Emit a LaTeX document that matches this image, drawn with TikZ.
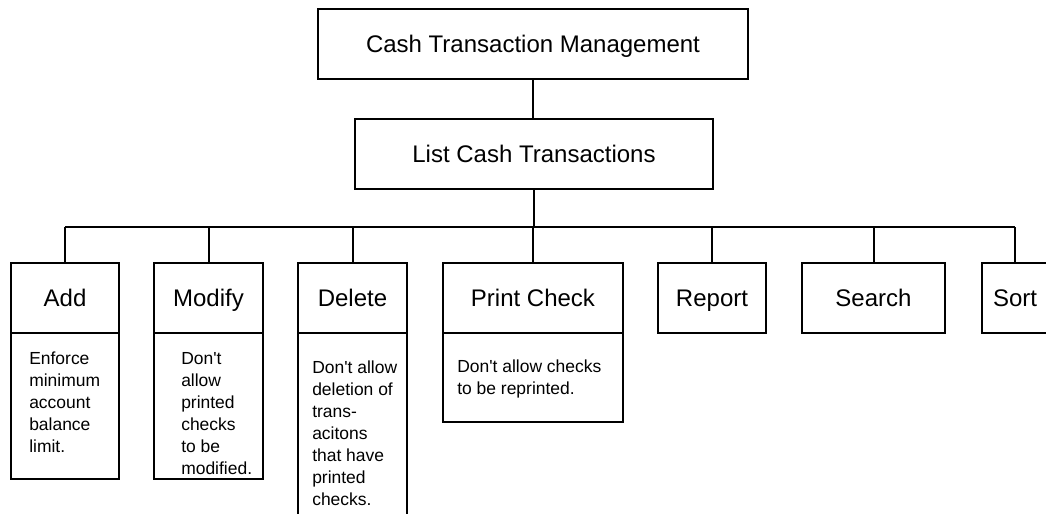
\documentclass[tikz,border=0pt]{standalone}
\usepackage{fontspec}
\setmainfont{Liberation Sans}
\newcommand{\apos}{\textquotesingle}
\begin{document}
\begin{tikzpicture}[x=0.75pt,y=-0.75pt,
  box/.style={draw,line width=1.5pt,rectangle,inner sep=0pt,outer sep=0pt,
    minimum height=52.5pt,text height=15pt,text depth=3pt,
    font=\fontsize{18}{21}\selectfont},
  note/.style={draw,line width=1.5pt,rectangle,inner sep=0pt,outer sep=0pt,anchor=north},
  notetext/.style={anchor=north west,inner sep=0pt,align=left,
    font=\fontsize{13.1}{16.5}\selectfont},
  link/.style={line width=1.5pt}]
\clip (0,0) rectangle (1046,514);

% top levels
\node[box,minimum width=322.5pt] (ctm)  at (533,44)  {Cash Transaction Management};
\node[box,minimum width=268.5pt] (list) at (534,154) {List Cash Transactions};

% functions
\node[box,minimum width=81pt]     (add)    at (65,298)    {Add};
\node[box,minimum width=81.75pt]  (modify) at (208.5,298) {Modify};
\node[box,minimum width=81.75pt]  (delete) at (352.5,298) {Delete};
\node[box,minimum width=135pt]    (print)  at (533,298)   {Print Check};
\node[box,minimum width=81pt]     (report) at (712,298)   {Report};
\node[box,minimum width=107.25pt] (search) at (873.5,298) {Search};
\node[box,minimum width=49.5pt]   (sort)   at (1015,298)  {Sort};

% rule boxes under the functions
\node[note,minimum width=81pt,minimum height=109.5pt]    (addnote)    at (add.south) {};
\node[note,minimum width=81.75pt,minimum height=109.5pt] (modifynote) at (modify.south) {};
\node[note,minimum width=81.75pt,minimum height=150pt]   (deletenote) at (delete.south) {};
\node[note,minimum width=135pt,minimum height=66.75pt]   (printnote)  at (print.south) {};

\node[notetext] (addtext)    at (29,352)  {Enforce\\minimum\\account\\balance\\limit.};
\node[notetext] (modifytext) at (181,352) {Don\apos t\\allow\\printed\\checks\\to be\\modified.};
\node[notetext] (deletetext) at (312,361) {Don\apos t allow\\deletion of\\trans-\\acitons\\that have\\printed\\checks.};
\node[notetext] (printtext)  at (457,360) {Don\apos t allow checks\\to be reprinted.};

% connectors
\coordinate (bus) at (0,227);
\draw[link] (ctm.south) -- (ctm.south |- list.north);
\draw[link] (list.south) -- (list.south |- bus);
\draw[link] (add.north |- bus) -- (sort.north |- bus);
\foreach \c in {add,modify,delete,print,report,search,sort}
  \draw[link] (\c.north) -- (\c.north |- bus);
\end{tikzpicture}
\end{document}
